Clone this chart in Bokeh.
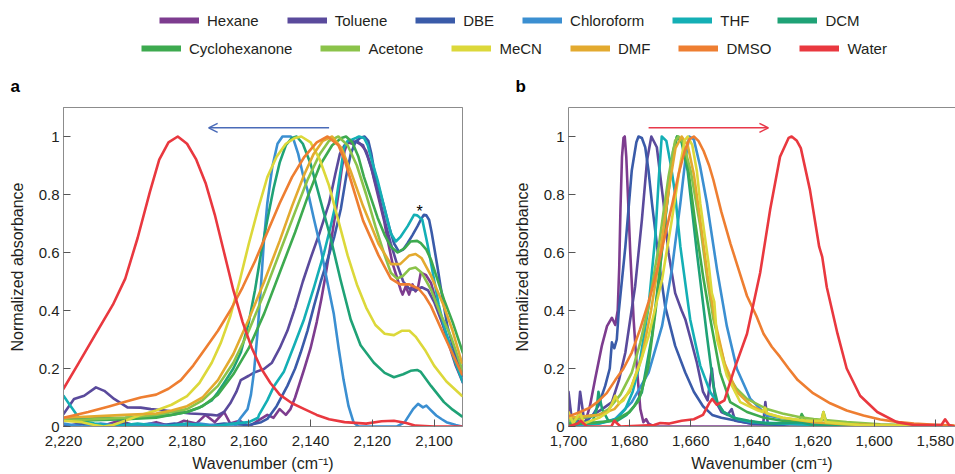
from bokeh.plotting import figure
from bokeh.layouts import column, row
from bokeh.models import (Range1d, FixedTicker, NumeralTickFormatter, Legend, LegendItem,
                          Arrow, OpenHead, LinearAxis)
from bokeh.core.properties import value
from bokeh.embed import file_html
from bokeh.resources import INLINE

FONT = "Liberation Sans"
TXT = "#231f20"
FRAME = "#8c8c8c"

SOLVENTS = ["Hexane", "Toluene", "DBE", "Chloroform", "THF", "DCM",
            "Cyclohexanone", "Acetone", "MeCN", "DMF", "DMSO", "Water"]
COLORS = ["#7d3c8f", "#5a4a9c", "#3a5ba9", "#3b8fd1", "#14afb5", "#1fa276",
          "#3daa4f", "#8bc34a", "#dcd83a", "#e3aa2f", "#ee7e31", "#e9383f"]

A_XTICKS = [2220, 2200, 2180, 2160, 2140, 2120, 2100]
B_XTICKS = [1700, 1680, 1660, 1640, 1620, 1600, 1580]
Y_TICKS = [0, 0.2, 0.4, 0.6, 0.8, 1]

# ---- panel a: (wavenumber, normalized absorbance) ----
A_HEXANE = [(2220,0.0),(2214,0.01),(2208,0.0),(2202,0.02),(2196,0.0),(2190,0.015),(2185,0.0),(2181,0.02),
            (2177,0.01),(2174,0.04),(2171,0.015),(2168,0.05),(2166,0.01),(2163,0.02),(2160,0.0),(2157,0.02),
            (2154,0.04),(2152,0.03),(2150,0.06),(2148,0.04),(2146.5,0.06),(2145,0.1),(2143.5,0.15),(2142,0.2),
            (2140,0.27),(2138,0.36),(2136.5,0.44),(2135,0.53),(2133.5,0.63),(2132,0.73),(2131,0.8),(2130,0.88),
            (2129,0.95),(2128,0.98),(2126.5,0.975),(2125,0.985),(2123.5,0.97),(2122,0.95),(2120.5,0.9),
            (2119.4,0.85),(2117.8,0.78),(2116.2,0.71),(2114.8,0.63),(2113.5,0.564),(2111.8,0.506),(2110.8,0.47),
            (2110.2,0.455),(2109.2,0.483),(2108.1,0.455),(2107,0.49),(2106,0.466),(2105.2,0.48),(2104.3,0.53),
            (2102.7,0.523),(2101,0.495),(2098.9,0.415),(2097.3,0.36),(2095.7,0.3),(2093,0.21),(2090.7,0.152)]
A_TOLUENE = [(2220,0.043),(2216.6,0.095),(2213.3,0.106),(2209.5,0.135),(2206.8,0.123),(2203.6,0.095),
             (2199.3,0.066),(2195,0.065),(2191.7,0.06),(2187,0.055),(2183.1,0.05),(2179,0.045),(2175.6,0.043),
             (2172,0.04),(2170.2,0.038),(2168,0.05),(2166,0.08),(2164,0.12),(2162.6,0.16),(2160,0.175),
             (2158.3,0.186),(2155.1,0.198),(2152.5,0.22),(2150,0.27),(2147.5,0.33),(2145,0.41),(2142.5,0.5),
             (2140,0.58),(2137,0.67),(2134,0.77),(2132,0.87),(2130.5,0.94),(2129,0.97),(2127,0.985),(2125,0.98),
             (2123,0.97),(2121.5,0.93),(2120,0.88),(2118,0.8),(2116,0.71),(2114,0.63),(2112,0.56),(2110,0.5),
             (2108,0.475),(2106,0.47),(2104,0.48),(2102,0.47),(2100,0.43),(2097.5,0.36),(2094.5,0.27),(2091,0.19)]
A_DBE = [(2220,0.0),(2214,0.01),(2208,0.0),(2200,0.01),(2192,0.0),(2184,0.01),(2176,0.0),(2168,0.01),(2160,0.005),
         (2156,0.015),(2154,0.026),(2151,0.07),(2147.5,0.14),(2145,0.2),(2143.2,0.255),(2141,0.33),(2138.9,0.415),
         (2136.7,0.5),(2134.5,0.575),(2132.3,0.655),(2130.2,0.75),(2128.5,0.86),(2127,0.94),(2125.5,0.98),
         (2124,0.995),(2122.5,1.0),(2121.3,0.985),(2120.3,0.94),(2119.4,0.883),(2117.8,0.82),(2116.2,0.758),
         (2114.6,0.69),(2113,0.632),(2111.4,0.603),(2110,0.61),(2108.6,0.632),(2107,0.66),(2105.4,0.69),
         (2104.2,0.715),(2103.3,0.73),(2102.5,0.728),(2101.6,0.712),(2100.8,0.67),(2100,0.62),(2098.9,0.55),
         (2097.9,0.483),(2095.7,0.346),(2094,0.28),(2092.5,0.232),(2090.7,0.175)]
A_CHLOROFORM = [(2220,0.01),(2214,0.0),(2208,0.01),(2200,0.0),(2192,0.01),(2184,0.0),(2176,0.01),(2168,0.0),
                (2164.5,0.0),(2162.6,0.03),(2160.4,0.06),(2159.3,0.11),(2158.3,0.19),(2157.2,0.32),(2156.1,0.48),
                (2155.1,0.64),(2154,0.77),(2152.4,0.895),(2150.7,0.975),(2149.1,1.0),(2146.4,1.0),(2145.4,0.986),
                (2144,0.94),(2142.5,0.87),(2141,0.815),(2139,0.72),(2136.8,0.62),(2134.6,0.5),(2132.5,0.39),
                (2130.9,0.27),(2129.3,0.16),(2127.7,0.07),(2126.1,0.015),(2124.5,0.0),(2112,0.0),(2109.5,0.015),
                (2108,0.04),(2106.8,0.06),(2105.2,0.078),(2103.6,0.066),(2102.5,0.072),(2101.4,0.06),
                (2099.3,0.038),(2097.5,0.025),(2096,0.015),(2093,0.005),(2091,0.0)]
A_THF = [(2220,0.106),(2218,0.075),(2216,0.045),(2214.4,0.02),(2210,0.01),(2204,0.0),(2196,0.01),(2188,0.0),
         (2180,0.01),(2172,0.0),(2165,0.01),(2160,0.015),(2157,0.03),(2156.7,0.04),(2154,0.09),(2151.8,0.14),
         (2148.6,0.19),(2145.3,0.28),(2142.1,0.37),(2138.9,0.48),(2135.6,0.6),(2133.5,0.69),(2132,0.76),
         (2131,0.83),(2130,0.9),(2129.2,0.96),(2128,0.985),(2126.5,0.99),(2125.3,0.995),(2124.3,1.0),
         (2122.7,0.995),(2121.5,0.97),(2120.5,0.93),(2118.3,0.85),(2116.2,0.758),(2114,0.666),(2112.4,0.638),
         (2110.8,0.655),(2108.6,0.69),(2106.5,0.73),(2105.5,0.728),(2104.9,0.723),(2103.8,0.712),(2102.2,0.632),
         (2100,0.506),(2098.5,0.42),(2096.8,0.346),(2093.5,0.232),(2090.7,0.152)]
A_DCM = [(2220,0.025),(2210,0.028),(2200,0.03),(2190,0.035),(2185,0.04),(2180,0.05),(2176,0.065),(2172,0.09),
         (2170,0.118),(2168,0.15),(2165,0.2),(2162.6,0.255),(2160,0.36),(2158,0.47),(2156,0.6),(2154,0.712),
         (2152,0.82),(2150,0.91),(2148,0.97),(2146,0.995),(2144.5,1.0),(2142.5,0.975),(2140,0.906),(2136.8,0.78),
         (2133.5,0.65),(2130.3,0.506),(2127,0.369),(2123.8,0.28),(2119.5,0.22),(2116,0.185),(2113,0.17),
         (2110,0.18),(2107.6,0.192),(2105.5,0.195),(2104.3,0.188),(2101,0.14),(2096.8,0.084),(2094,0.058),
         (2091,0.035)]
A_CYCLOHEXANONE = [(2220,0.02),(2210,0.022),(2200,0.025),(2190,0.03),(2180,0.05),(2175,0.07),(2170,0.11),
                   (2165,0.18),(2160,0.27),(2155,0.39),(2150,0.53),(2145,0.67),(2141,0.79),(2137,0.9),(2133,0.97),
                   (2130,0.995),(2128.5,1.0),(2126.5,0.98),(2124.5,0.93),(2122.7,0.86),(2120.5,0.79),(2118.3,0.72),
                   (2116,0.66),(2114,0.62),(2111.8,0.6),(2109.5,0.615),(2107.6,0.638),(2105.5,0.64),(2104.3,0.632),
                   (2102.5,0.61),(2101,0.575),(2099,0.51),(2096.8,0.438),(2094,0.36),(2090.7,0.255)]
A_ACETONE = [(2220,0.02),(2210,0.025),(2200,0.03),(2190,0.04),(2180,0.06),(2175,0.09),(2170,0.14),(2165,0.22),
             (2160,0.33),(2155,0.46),(2150,0.6),(2145,0.74),(2141,0.85),(2137,0.94),(2134,0.985),(2131,1.0),
             (2128,0.97),(2125,0.9),(2122,0.8),(2119,0.69),(2116,0.59),(2114,0.53),(2112,0.51),(2110,0.52),
             (2108,0.543),(2106,0.548),(2104,0.53),(2101,0.472),(2098,0.39),(2094.6,0.312),(2090.7,0.19)]
A_MECN = [(2220,0.02),(2214,0.015),(2210,0.005),(2207,0.0),(2204,0.005),(2200,0.02),(2195,0.04),(2190,0.055),
          (2185,0.075),(2180,0.105),(2176,0.15),(2172,0.22),(2169,0.29),(2166,0.38),(2163,0.5),(2160,0.63),
          (2157,0.75),(2154,0.86),(2151,0.93),(2148,0.975),(2145,0.995),(2143,1.0),(2140,0.98),(2137,0.92),
          (2134,0.83),(2131,0.71),(2128,0.59),(2125,0.49),(2122,0.41),(2119,0.35),(2116,0.32),(2113,0.315),
          (2110.5,0.33),(2108,0.33),(2106,0.31),(2103,0.265),(2100,0.21),(2096,0.155),(2091,0.106)]
A_DMF = [(2220,0.03),(2210,0.035),(2200,0.04),(2190,0.045),(2185,0.055),(2180,0.07),(2175,0.1),(2170,0.16),
         (2165,0.25),(2160,0.37),(2155,0.5),(2150,0.64),(2146,0.76),(2142,0.87),(2139,0.94),(2136,0.985),
         (2133,1.0),(2130,0.96),(2127,0.88),(2123,0.76),(2118,0.63),(2114,0.56),(2111,0.56),(2108,0.59),
         (2106,0.595),(2104,0.58),(2101,0.52),(2097,0.42),(2094,0.33),(2091,0.22)]
A_DMSO = [(2220,0.03),(2212,0.05),(2205,0.07),(2200,0.085),(2195,0.1),(2190,0.11),(2186,0.13),(2182,0.16),
          (2178,0.21),(2174,0.27),(2170,0.33),(2166,0.4),(2162,0.48),(2158,0.57),(2154,0.67),(2150,0.77),
          (2146,0.86),(2142,0.93),(2138,0.98),(2134.5,1.0),(2131,0.97),(2129,0.92),(2127,0.85),(2123,0.71),
          (2118,0.59),(2114,0.51),(2111,0.49),(2108,0.49),(2105,0.475),(2103,0.45),(2101,0.415),(2097,0.32),
          (2094,0.25),(2091,0.18)]
A_WATER = [(2220,0.13),(2215,0.22),(2209,0.33),(2204,0.42),(2200,0.51),(2196,0.65),(2192,0.81),(2189,0.92),
           (2186,0.98),(2183,1.0),(2180,0.975),(2177,0.92),(2174,0.84),(2171,0.73),(2168,0.6),(2165,0.47),
           (2162,0.36),(2159,0.27),(2156,0.2),(2153,0.15),(2150,0.11),(2146,0.08),(2142,0.06),(2138,0.04),
           (2134,0.025),(2129,0.015),(2122,0.01),(2117,0.018),(2113,0.02),(2109,0.012),(2106,0.003),
           (2100,0.0),(2091,0.0)]

# ---- panel b ----
B_HEXANE = [(1700,0.1),(1699.2,0.03),(1698,0.02),(1696.5,0.015),(1694.5,0.015),(1693,0.07),(1691.3,0.163),
            (1689.1,0.278),(1687.4,0.346),(1685.8,0.375),(1684.7,0.35),(1683.9,0.4),(1683.4,0.55),(1683,0.75),
            (1682.5,0.93),(1682,0.995),(1681.6,1.0),(1681.1,0.93),(1680.5,0.78),(1679.8,0.6),(1678.7,0.37),
            (1677.6,0.198),(1676.5,0.06),(1675.5,0.015),(1674.6,0.025),(1673.8,0.01),(1672,0.0),(1660,0.0),
            (1640,0.0),(1620,0.0),(1574,0.0)]
B_TOLUENE = [(1700,0.12),(1699,0.03),(1697,0.02),(1696.2,0.12),(1695,0.03),(1692,0.04),(1689,0.06),
             (1685.8,0.084),(1683.5,0.16),(1681.4,0.255),(1679.8,0.37),(1678.2,0.483),(1676,0.712),(1674.3,0.918),
             (1672.9,1.0),(1671.1,0.963),(1668.9,0.77),(1667.3,0.6),(1665.1,0.46),(1663,0.4),(1661.8,0.37),
             (1660,0.3),(1658,0.22),(1656,0.12),(1654.5,0.09),(1653.1,0.2),(1652,0.09),(1650,0.05),(1648,0.04),
             (1646.6,0.06),(1645.5,0.02),(1640,0.01),(1636.3,0.01),(1635.6,0.084),(1634.8,0.01),(1628,0.01),
             (1624,0.02),(1620,0.005),(1574,0.0)]
B_DBE = [(1700,0.01),(1697,0.005),(1694,0.02),(1692,0.04),(1690.2,0.072),(1688,0.14),(1686.5,0.2),(1685.8,0.29),
         (1685,0.27),(1684.2,0.3),(1683.6,0.392),(1681.4,0.62),(1679.3,0.883),(1677.8,0.98),(1677.1,1.0),
         (1676,0.995),(1674.9,0.963),(1673.8,0.88),(1672.7,0.77),(1670.5,0.575),(1668.4,0.415),(1665.1,0.278),
         (1661.8,0.186),(1659,0.12),(1656,0.07),(1653,0.04),(1650,0.03),(1645,0.02),(1640,0.01),(1630,0.005),
         (1625,0.015),(1620,0.005),(1574,0.0)]
B_CHLOROFORM = [(1700,0.0),(1695,0.005),(1690,0.01),(1684.7,0.026),(1679.3,0.084),(1673.8,0.186),(1669.4,0.346),
                (1666.2,0.54),(1663.4,0.77),(1661.8,0.918),(1660.5,1.0),(1659,0.99),(1657,0.9),(1654.7,0.77),
                (1651.4,0.54),(1648.2,0.346),(1644.9,0.198),(1640.5,0.095),(1635.1,0.038),(1628.5,0.026),
                (1624,0.015),(1620,0.01),(1610,0.005),(1574,0.0)]
B_THF = [(1700,0.02),(1696,0.01),(1690,0.01),(1686,0.02),(1684,0.03),(1681.4,0.06),(1679,0.12),(1677.1,0.198),
         (1675.5,0.3),(1673.8,0.415),(1671.6,0.655),(1670.5,0.85),(1669.5,1.0),(1668,0.985),(1666.5,0.9),
         (1665.1,0.8),(1663.4,0.62),(1660.2,0.37),(1656.9,0.21),(1653.6,0.118),(1649.3,0.05),(1644.9,0.026),
         (1640,0.015),(1630,0.01),(1620,0.005),(1574,0.0)]
B_DCM = [(1700,0.0),(1696,0.01),(1692,0.02),(1690.8,0.06),(1690.2,0.12),(1689,0.06),(1687,0.02),(1684,0.02),
         (1681,0.04),(1678.5,0.07),(1676,0.118),(1672.7,0.312),(1670.5,0.506),(1668.4,0.712),(1666.2,0.906),
         (1664.5,1.0),(1663,0.98),(1661,0.88),(1658,0.6),(1654.7,0.312),(1652.6,0.14),(1651.2,0.08),
         (1649.3,0.05),(1646,0.03),(1641,0.02),(1635,0.01),(1624,0.015),(1620,0.005),(1574,0.0)]
B_CYCLOHEXANONE = [(1700,0.01),(1695,0.01),(1690,0.015),(1685,0.02),(1680,0.05),(1677,0.09),(1674,0.2),
                   (1671.5,0.4),(1669.5,0.6),(1667.5,0.8),(1665.8,0.95),(1664.5,1.0),(1663,0.99),(1661,0.9),
                   (1658.5,0.7),(1656,0.52),(1653.6,0.37),(1650.4,0.186),(1647.1,0.084),(1641.6,0.05),
                   (1636,0.03),(1630,0.02),(1624.5,0.02),(1623.7,0.043),(1622.5,0.02),(1617.3,0.02),
                   (1616.6,0.05),(1615.8,0.02),(1610,0.01),(1600,0.005),(1574,0.0)]
B_ACETONE = [(1700,0.02),(1695,0.03),(1690,0.04),(1686.9,0.06),(1683,0.11),(1679.3,0.186),(1676.5,0.29),
             (1673.8,0.415),(1670.5,0.62),(1667.3,0.86),(1665.1,0.986),(1664,1.0),(1662.5,0.98),(1660,0.88),
             (1656.9,0.69),(1654.5,0.5),(1652.6,0.37),(1650,0.26),(1648.2,0.186),(1645,0.13),(1641.6,0.095),
             (1635.1,0.06),(1630,0.045),(1624.2,0.032),(1619.8,0.026),(1609,0.015),(1598,0.008),(1585,0.004),
             (1574,0.002)]
B_MECN = [(1700,0.05),(1698.5,0.01),(1696.2,0.05),(1695,0.01),(1690,0.03),(1687,0.05),(1685.3,0.09),
          (1684.7,0.106),(1683.5,0.08),(1682,0.09),(1679.3,0.14),(1676.5,0.22),(1673.8,0.312),(1669.4,0.506),
          (1666.2,0.712),(1663.4,0.906),(1662,0.986),(1661,1.0),(1659.5,0.97),(1658,0.88),(1656.9,0.77),
          (1654.2,0.564),(1653.1,0.46),(1652.3,0.43),(1651.4,0.3),(1648.2,0.175),(1643.8,0.084),(1638,0.055),
          (1636.5,0.05),(1635.7,0.065),(1635,0.045),(1630,0.03),(1622,0.02),(1617.3,0.02),(1616.6,0.05),
          (1615.8,0.015),(1605,0.005),(1574,0.0)]
B_DMF = [(1700,0.03),(1690,0.04),(1685,0.06),(1680,0.12),(1676,0.24),(1673,0.4),(1670,0.6),(1667,0.83),
         (1665,0.96),(1663,1.0),(1661,0.97),(1659,0.87),(1657,0.72),(1654.5,0.52),(1652,0.36),(1649,0.22),
         (1645,0.12),(1640,0.07),(1635,0.045),(1630,0.03),(1620,0.015),(1610,0.008),(1574,0.0)]
B_DMSO = [(1700,0.035),(1696.2,0.05),(1693,0.065),(1690.5,0.085),(1687.5,0.115),(1684.7,0.16),(1682,0.2),
          (1679.3,0.255),(1676.6,0.335),(1673.8,0.43),(1671,0.54),(1668.4,0.66),(1666,0.77),(1664,0.87),
          (1662,0.95),(1660.5,0.99),(1659,1.0),(1657.5,0.985),(1655.8,0.95),(1654,0.9),(1652.6,0.85),
          (1650,0.74),(1647,0.63),(1644,0.53),(1641.6,0.45),(1638.5,0.38),(1636.2,0.32),(1633.5,0.275),
          (1630.8,0.24),(1628,0.2),(1625,0.16),(1620,0.115),(1614.4,0.08),(1609,0.055),(1603.5,0.038),
          (1598,0.024),(1592,0.015),(1587,0.01),(1580,0.006),(1574,0.003)]
B_WATER = [(1700,0.0),(1697,0.01),(1696,0.02),(1694,0.0),(1686,0.0),(1685,0.02),(1683,0.0),(1672,0.005),
           (1670,0.012),(1667,0.01),(1663,0.02),(1659,0.025),(1656,0.04),(1654,0.08),(1653,0.095),
           (1651.5,0.075),(1649,0.09),(1646,0.19),(1641.6,0.32),(1637.3,0.53),(1634,0.75),(1630.8,0.93),
           (1628,0.995),(1627,1.0),(1625.3,0.985),(1624,0.96),(1621,0.815),(1618,0.62),(1617,0.585),
           (1615.5,0.48),(1612,0.32),(1609,0.2),(1604.6,0.106),(1599,0.05),(1592.6,0.015),(1587,0.005),
           (1578,0.005),(1576.8,0.025),(1575.5,0.005),(1574,0.0)]

A_SERIES = [A_HEXANE, A_TOLUENE, A_DBE, A_CHLOROFORM, A_THF, A_DCM,
            A_CYCLOHEXANONE, A_ACETONE, A_MECN, A_DMF, A_DMSO, A_WATER]
B_SERIES = [B_HEXANE, B_TOLUENE, B_DBE, B_CHLOROFORM, B_THF, B_DCM,
            B_CYCLOHEXANONE, B_ACETONE, B_MECN, B_DMF, B_DMSO, B_WATER]
B_ORDER = [0, 1, 2, 3, 4, 5, 6, 7, 9, 8, 10, 11]  # DMF drawn beneath MeCN

# annotations
A_ARROW = (2134, 2173, 1.03)   # x_start, x_end, y
B_ARROW = (1673.8, 1634.6, 1.03)
A_STAR = (2104.7, 0.742)


def style(p, xticks, label):
    p.title.text = label
    p.title.text_font = FONT
    p.title.text_font_size = "17px"
    p.title.text_font_style = "bold"
    p.title.text_color = "#000000"
    p.title.align = "left"
    p.title.offset = -53
    p.title.standoff = 11
    p.xgrid.visible = False
    p.ygrid.visible = False
    bx = p.below[0]
    ly = p.left[0]
    bx.ticker = FixedTicker(ticks=xticks)
    bx.formatter = NumeralTickFormatter(format="0,0")
    ly.ticker = FixedTicker(ticks=Y_TICKS)
    ly.formatter = NumeralTickFormatter(format="0.[0]")
    for ax in (bx, ly):
        ax.axis_line_color = FRAME
        ax.major_tick_line_color = "#555555"
        ax.major_tick_in = 7
        ax.major_tick_out = 0
        ax.minor_tick_line_color = None
        ax.major_label_text_font = FONT
        ax.major_label_text_font_size = "15px"
        ax.major_label_text_color = TXT
        ax.major_label_text_line_height = 1.0
        ax.axis_label_text_font = FONT
        ax.axis_label_text_font_size = "16px"
        ax.axis_label_text_font_style = "normal"
        ax.axis_label_text_color = TXT
        ax.axis_label_text_line_height = 1.0
    bx.axis_label = "Wavenumber (cm\u207b\u00b9)"
    bx.major_label_standoff = 9
    bx.axis_label_standoff = 6
    ly.axis_label = "Normalized absorbance"
    ly.major_label_standoff = 4
    ly.axis_label_standoff = 10
    # plain top border line (panel b runs off the page edge, so no right border there)
    top = LinearAxis(axis_line_color=FRAME, major_tick_line_color=None, minor_tick_line_color=None,
                     major_label_text_font_size="0px", major_label_standoff=0,
                     major_label_text_alpha=0)
    p.add_layout(top, "above")


LEG_H = 62
PANEL_H = 412

pa = figure(width=500, height=PANEL_H, x_range=Range1d(2220, 2090.8), y_range=Range1d(0, 1.1),
            toolbar_location=None, output_backend="svg",
            min_border_left=63, min_border_right=38, min_border_top=45, min_border_bottom=46)
pb = figure(width=455, height=PANEL_H, x_range=Range1d(1700, 1573.4), y_range=Range1d(0, 1.1),
            toolbar_location=None, output_backend="svg",
            min_border_left=68, min_border_right=0, min_border_top=45, min_border_bottom=46)
style(pa, A_XTICKS, "a")
style(pb, B_XTICKS, "b")
pa.outline_line_color = FRAME
pb.outline_line_color = None

for i, pts in enumerate(A_SERIES):
    pa.line([q[0] for q in pts], [q[1] for q in pts], line_color=COLORS[i], line_width=2.6,
            line_join="round", line_cap="round")
for i in B_ORDER:
    pts = B_SERIES[i]
    pb.line([q[0] for q in pts], [q[1] for q in pts], line_color=COLORS[i], line_width=2.6,
            line_join="round", line_cap="round")

pa.add_layout(Arrow(end=OpenHead(size=9, line_color="#4a6bb8", line_width=1.5),
                    x_start=A_ARROW[0], x_end=A_ARROW[1], y_start=A_ARROW[2], y_end=A_ARROW[2],
                    line_color="#4a6bb8", line_width=1.5))
pb.add_layout(Arrow(end=OpenHead(size=9, line_color="#e8394a", line_width=1.5),
                    x_start=B_ARROW[0], x_end=B_ARROW[1], y_start=B_ARROW[2], y_end=B_ARROW[2],
                    line_color="#e8394a", line_width=1.5))
pa.text(x=[A_STAR[0]], y=[A_STAR[1]], text=["*"], text_font=value(FONT), text_font_size="16px",
        text_align="center", text_baseline="middle", text_color="#000000")

# legend strip
leg = figure(width=955, height=LEG_H, x_range=Range1d(0, 1), y_range=Range1d(0, 1),
             x_axis_type=None, y_axis_type=None, toolbar_location=None, output_backend="svg",
             min_border=0)
leg.outline_line_color = None
leg.xgrid.visible = False
leg.ygrid.visible = False
items = []
for name, c in zip(SOLVENTS, COLORS):
    r = leg.line(x=[0.0], y=[float("nan")], line_color=c, line_width=6)
    items.append(LegendItem(label=name, renderers=[r]))

for its, loc in ((items[:6], (159, 32)), (items[6:], (141, 4))):
    lg = Legend(items=its, location=loc, orientation="horizontal",
                glyph_width=40, glyph_height=20, label_height=20, label_standoff=8, spacing=28,
                padding=0, margin=0, border_line_color=None, background_fill_alpha=0,
                label_text_font=FONT, label_text_font_size="15px", label_text_color=TXT)
    leg.add_layout(lg, "center")

layout = column(leg, row(pa, pb))
open("out.html", "w").write(file_html(layout, INLINE))
